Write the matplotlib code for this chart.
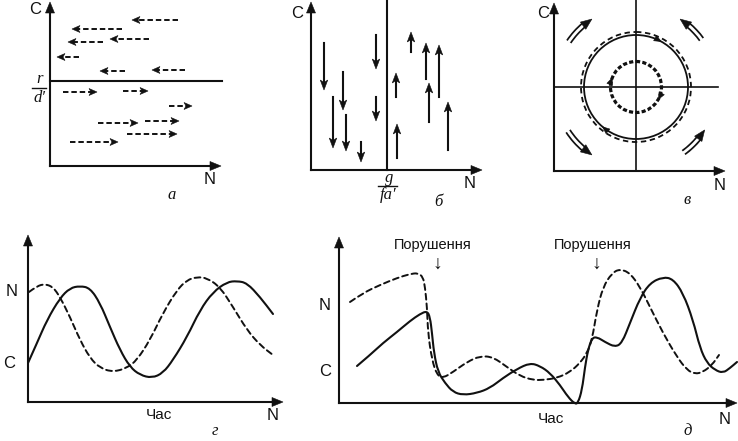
import numpy as np
import matplotlib
matplotlib.use('Agg')
import matplotlib.pyplot as plt
from matplotlib.patches import Polygon, Circle, Arc, PathPatch
from matplotlib.path import Path

INK = '#111111'

# panel а: horizontal dashed arrows (tail x, head x, y)
a_left_tail = [178, 122, 149, 103, 79, 125, 185]
a_left_head = [132, 72, 110, 68, 57, 100, 152]
a_left_y = [20, 29, 39, 42, 57, 71, 70]
a_right_tail = [63, 123, 169, 98, 145, 127, 70]
a_right_head = [97, 148, 192, 138, 179, 177, 118]
a_right_y = [92, 91, 106, 123, 121, 134, 142]

# panel б: vertical arrows (x, start y, tip y)
b_down_x = [324, 333, 343, 346, 361, 376, 376]
b_down_top = [43, 97, 72, 115, 142, 35, 97]
b_down_tip = [90, 148, 110, 151, 162, 69, 121]
b_up_x = [396, 397, 411, 426, 429, 439, 448]
b_up_bottom = [97, 158, 52, 79, 122, 97, 150]
b_up_tip = [73, 124, 32, 43, 83, 45, 102]

# panel в: circles around the equilibrium point
v_center = (636, 87)
v_radius_solid = 52
v_radius_dashed = 55
v_radius_inner = 25.5
# corner arrows: (start angle, tip angle, radius)
v_corner_start = [214, -36, 147, 54]
v_corner_tip = [237, -57, 123, 32]
v_corner_r = [81, 81, 81, 81]
# small heads on circles: (radius, angle)
v_mark_r = [52, 52, 25.5, 25.5]
v_mark_ang = [-61, 130, 201, 29]

# panel г: oscillations
g_solid_x = [28, 37, 47, 60, 70, 80, 90, 100, 110, 120, 130, 140, 152, 163,
             173, 187, 200, 213, 227, 237, 247, 260, 273]
g_solid_y = [363, 343, 320, 298, 288, 286, 288, 303, 327, 350, 367, 375, 378,
             373, 360, 337, 310, 292, 282, 281, 283, 297, 314]
g_dash_x = [29, 37, 45, 53, 60, 70, 80, 90, 100, 113, 127, 137, 150, 163,
            177, 187, 197, 207, 220, 233, 247, 260, 273]
g_dash_y = [292, 286, 284, 287, 297, 317, 340, 358, 368, 372, 368, 360, 340,
            313, 290, 280, 277, 278, 287, 307, 330, 345, 355]

# panel д: disturbed oscillations
d_dash_x = [350, 363, 380, 397, 410, 418, 423, 425, 427, 428, 432, 437, 443,
            453, 467, 480, 493, 507, 520, 533, 543, 557, 570, 580, 587, 592,
            597, 603, 612, 620, 630, 640, 650, 663, 677, 687, 695, 703, 712, 719]
d_dash_y = [302, 293, 285, 278, 274, 273, 277, 287, 307, 333, 360, 375, 378,
            372, 362, 356, 357, 367, 376, 380, 380, 378, 372, 363, 353, 340,
            310, 287, 273, 269, 273, 287, 307, 333, 357, 370, 374, 372, 365, 355]
d_solid_x = [357, 370, 383, 397, 410, 420, 427, 430, 432, 434, 438, 445, 453,
             463, 477, 490, 503, 517, 530, 540, 550, 560, 568, 575, 578, 582,
             585, 588, 592, 597, 605, 615, 622, 630, 640, 650, 663, 673, 683,
             693, 700, 707, 715, 723, 730, 737]
d_solid_y = [366, 355, 343, 332, 321, 314, 311, 317, 333, 353, 372, 383, 392,
             395, 393, 388, 378, 369, 363, 366, 373, 385, 397, 404, 403, 390,
             367, 350, 338, 337, 342, 347, 343, 323, 298, 283, 277, 279, 293,
             320, 348, 363, 370, 373, 368, 362]

# axes of every panel: origin, x tip, y tip
axes_origin = [(50, 166), (311, 170), (554, 171), (28, 402), (339, 403)]
axes_xtip = [221, 482, 725, 283, 737]
axes_ytip = [2, 2, 3, 235, 237]


def head(ax, tip, ang, length=8, width=6, notch=0.75):
    t = np.radians(ang)
    d = np.array([np.cos(t), np.sin(t)])
    n = np.array([-d[1], d[0]])
    tip = np.array(tip, float)
    base = tip - d * length
    pts = [tip, base + n * width / 2, tip - d * length * notch, base - n * width / 2]
    ax.add_patch(Polygon(pts, closed=True, fc=INK, ec=INK, lw=0.4, zorder=5))


def smooth_curve(ax, xs, ys, **kw):
    # read points used as quadratic bezier controls, drawn as one path
    p = np.column_stack([xs, ys]).astype(float)
    verts = [p[0]]
    codes = [Path.MOVETO]
    for i in range(1, len(p) - 1):
        verts += [p[i], (p[i] + p[i + 1]) / 2]
        codes += [Path.CURVE3, Path.CURVE3]
    verts.append(p[-1])
    codes.append(Path.LINETO)
    ax.add_patch(PathPatch(Path(verts, codes), fill=False, ec=INK,
                           capstyle='round', joinstyle='round', **kw))


fig = plt.figure(figsize=(7.38, 4.41), dpi=100)
ax = fig.add_axes([0, 0, 1, 1])
ax.set_xlim(0, 738)
ax.set_ylim(441, 0)
ax.axis('off')

# coordinate axes
for (ox, oy), xt, yt in zip(axes_origin, axes_xtip, axes_ytip):
    ax.plot([ox, xt - 6], [oy, oy], color=INK, lw=1.5)
    ax.plot([ox, ox], [oy, yt + 6], color=INK, lw=1.5)
    head(ax, (xt, oy), 0, 11, 9, 1.0)
    head(ax, (ox, yt), -90, 11, 9, 1.0)

# panel а
ax.plot([50, 222], [81, 81], color=INK, lw=1.5)
for t, h, y in zip(a_left_tail, a_left_head, a_left_y):
    ax.plot([t, h + 5], [y, y], color=INK, lw=1.4, ls=(0, (2.8, 1.5)))
    head(ax, (h, y), 180, 8, 7)
for t, h, y in zip(a_right_tail, a_right_head, a_right_y):
    ax.plot([t, h - 5], [y, y], color=INK, lw=1.4, ls=(0, (2.8, 1.5)))
    head(ax, (h, y), 0, 8, 7)

# panel б
ax.plot([387, 387], [0, 170], color=INK, lw=1.5)
for x, a, b in zip(b_down_x, b_down_top, b_down_tip):
    ax.plot([x, x], [a, b - 5], color=INK, lw=1.5)
    head(ax, (x, b), 90, 10, 7.5)
for x, a, b in zip(b_up_x, b_up_bottom, b_up_tip):
    ax.plot([x, x], [a, b + 5], color=INK, lw=1.5)
    head(ax, (x, b), -90, 10, 7.5)

# panel в
cx, cy = v_center
ax.plot([554, 718], [cy, cy], color=INK, lw=1.2)
ax.plot([cx, cx], [0, 171], color=INK, lw=1.2)
ax.add_patch(Circle(v_center, v_radius_solid, fill=False, ec=INK, lw=1.3))
ax.add_patch(Circle(v_center, v_radius_dashed, fill=False, ec=INK, lw=1.3,
                    ls=(0, (3, 2))))
ax.add_patch(Circle(v_center, v_radius_inner, fill=False, ec=INK, lw=2.3,
                    ls=(0, (1.3, 0.7))))
for r, a in zip(v_mark_r, v_mark_ang):
    p = (cx + r * np.cos(np.radians(a)), cy + r * np.sin(np.radians(a)))
    head(ax, p, a + 90, 7, 6, 1.0)
for a0, a1, r in zip(v_corner_start, v_corner_tip, v_corner_r):
    sgn = 1 if a1 > a0 else -1
    a_end = a1 - sgn * 7
    lo, hi = min(a0, a_end), max(a0, a_end)
    ax.add_patch(Arc(v_center, 2 * r, 2 * r, theta1=lo, theta2=hi,
                     color=INK, lw=4.5))
    ax.add_patch(Arc(v_center, 2 * r, 2 * r, theta1=lo - 0.5, theta2=hi + 0.5,
                     color='white', lw=2.0))
    tip = (cx + r * np.cos(np.radians(a1)), cy + r * np.sin(np.radians(a1)))
    head(ax, tip, a1 + sgn * 90 - sgn * 4, 11, 9, 1.0)

# panel г
smooth_curve(ax, g_solid_x, g_solid_y, lw=1.5)
smooth_curve(ax, g_dash_x, g_dash_y, lw=1.4, ls=(0, (3, 2)))

# panel д
smooth_curve(ax, d_solid_x, d_solid_y, lw=1.5)
smooth_curve(ax, d_dash_x, d_dash_y, lw=1.4, ls=(0, (3, 2)))

# texts
sans = dict(family='Liberation Sans', color=INK, ha='center', va='center')
ital = dict(family='Liberation Serif', style='italic', color=INK,
            ha='center', va='center')
for x, y in [(35, 9), (297, 14), (543, 14)]:
    ax.text(x, y, 'C', fontsize=12, **sans)
for x, y in [(210, 180), (470, 183), (720, 185), (273, 415), (725, 419)]:
    ax.text(x, y, 'N', fontsize=12, **sans)
ax.text(12, 292, 'N', fontsize=12, **sans)
ax.text(9, 363, 'C', fontsize=12, **sans)
ax.text(325, 306, 'N', fontsize=12, **sans)
ax.text(325, 372, 'C', fontsize=12, **sans)
ax.text(159, 415, 'Час', fontsize=11, **sans)
ax.text(551, 419, 'Час', fontsize=11, **sans)
ax.text(433, 245, 'Порушення', fontsize=10.5, **sans)
ax.text(593, 245, 'Порушення', fontsize=10.5, **sans)
ax.text(437, 264, '↓', fontsize=14, **sans)
ax.text(596, 264, '↓', fontsize=14, **sans)

ax.text(40, 79, 'r', fontsize=12, **ital)
ax.plot([32, 46], [88, 88], color=INK, lw=1.0)
ax.text(39, 98, "d′", fontsize=12, **ital)
ax.text(389, 178, 'g', fontsize=12, **ital)
ax.plot([378, 397], [186, 186], color=INK, lw=1.0)
ax.text(388, 195, "fa′", fontsize=12, **ital)

for x, y, s in [(172, 195, 'а'), (438, 202, 'б'), (687, 200, 'в'),
                (215, 431, 'г'), (688, 431, 'д')]:
    ax.text(x, y, s, fontsize=12, **ital)

fig.savefig('out.png', dpi=100, facecolor='white')
